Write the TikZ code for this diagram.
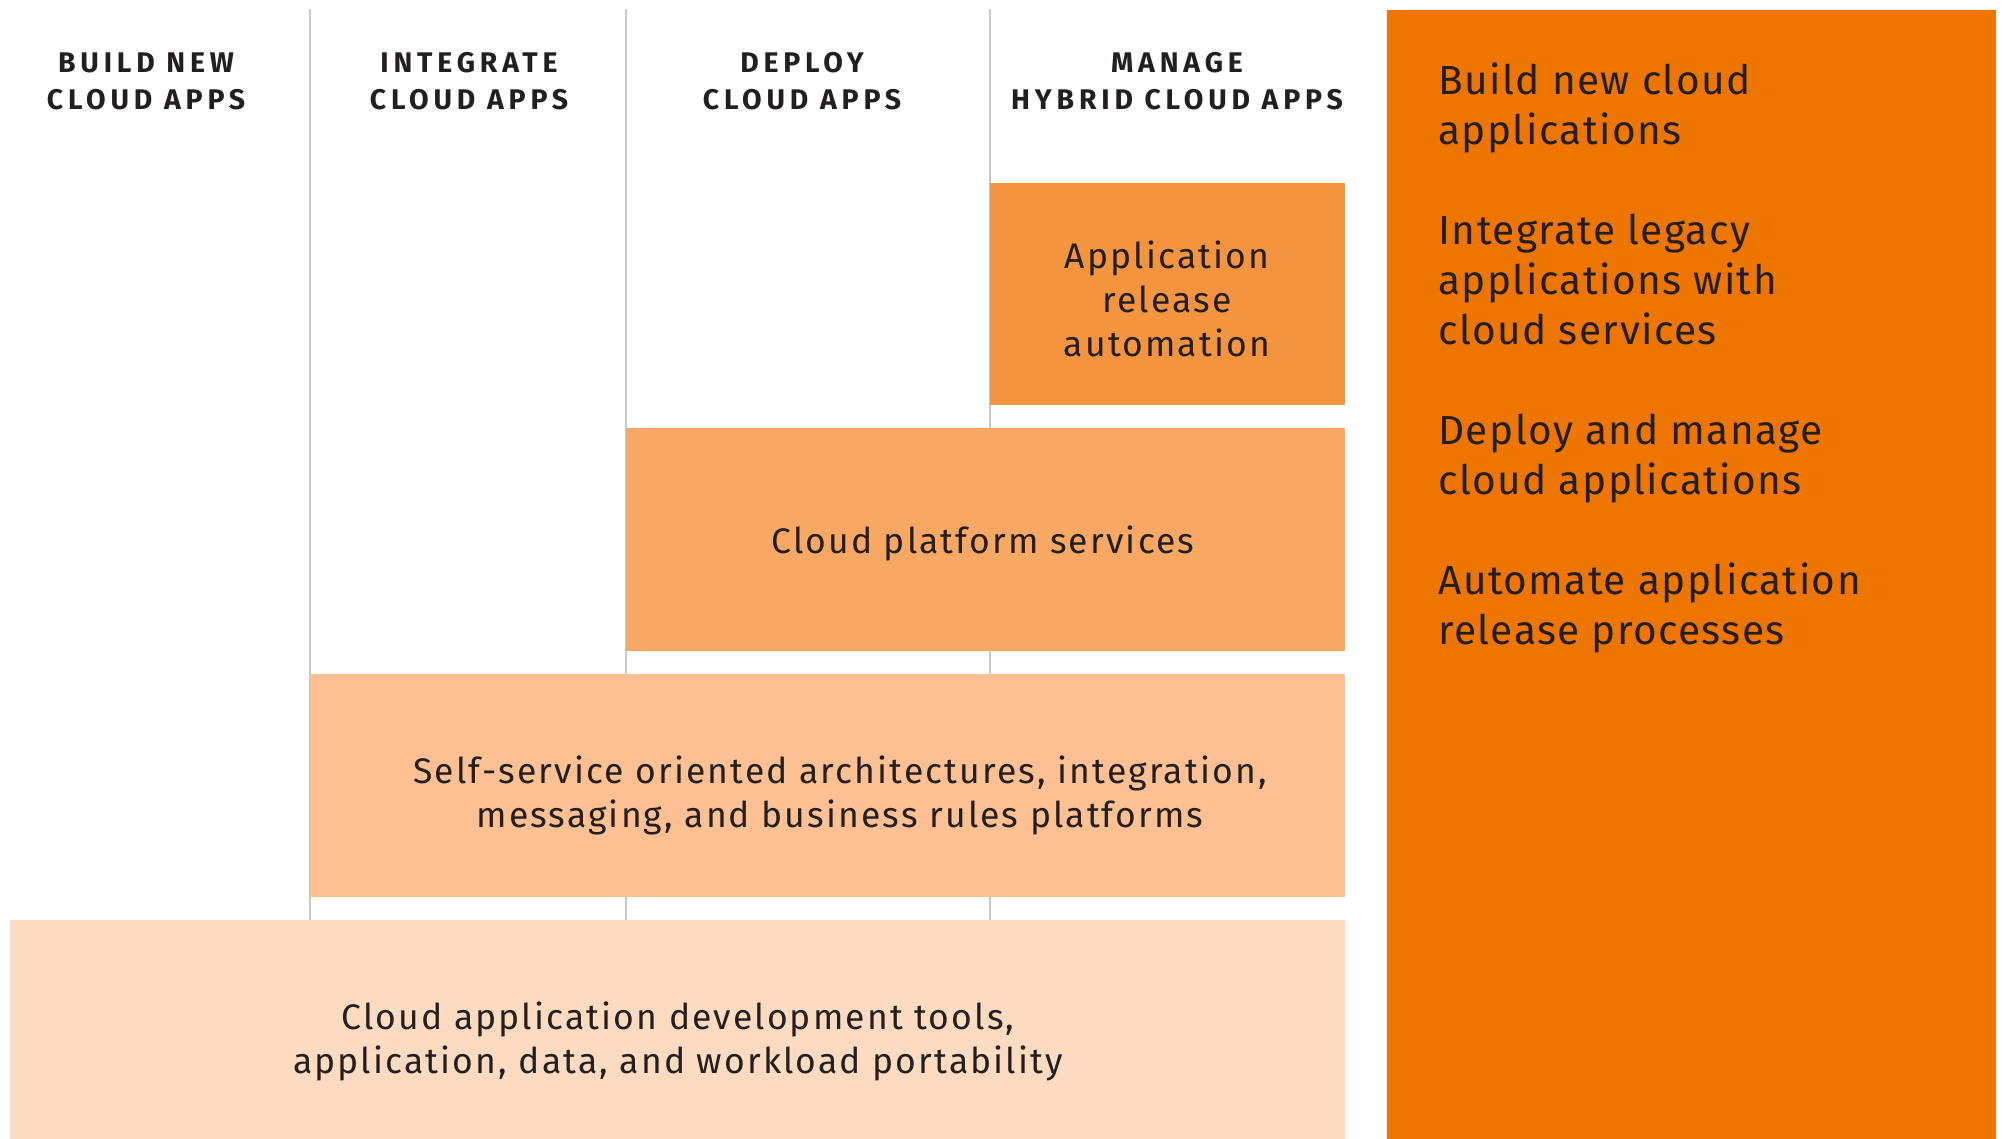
\documentclass[tikz,border=0pt]{standalone}
\usepackage{fontspec}
\setmainfont{Fira Sans}[LetterSpace=6]
\newfontfamily\hdrfont{Fira Sans}[LetterSpace=17]
\newfontfamily\panelfont{Fira Sans}[LetterSpace=3.5]
\definecolor{txt}{RGB}{35,31,32}
\definecolor{grid}{RGB}{200,200,200}
\definecolor{panel}{RGB}{238,118,0}
\definecolor{lvA}{RGB}{244,148,62}
\definecolor{lvB}{RGB}{248,168,99}
\definecolor{lvC}{RGB}{252,192,146}
\definecolor{lvD}{RGB}{253,219,192}
\tikzset{
  hdr/.style={anchor=base, align=center, text=txt, inner sep=0pt, font=\hdrfont\bfseries\fontsize{14.2}{18.5}\selectfont},
  boxtext/.style={anchor=base, align=center, text=txt, inner sep=0pt, font=\fontsize{17.75}{22}\selectfont},
  paneltext/.style={anchor=base west, align=left, text=txt, inner sep=0pt, font=\panelfont\fontsize{20.3}{25}\selectfont},
  gridline/.style={draw=grid, line width=1pt}
}
\begin{document}
\begin{tikzpicture}[x=0.5pt,y=-0.5pt]
\useasboundingbox (0,0) rectangle (2003,1139);
% column lines
\draw[gridline] (310,9) -- (310,920);
\draw[gridline] (626,9) -- (626,920);
\draw[gridline] (990,9) -- (990,920);
% boxes
\fill[lvA] (990,183) rectangle (1345,405);
\fill[lvB] (626,428) rectangle (1345,651);
\fill[lvC] (310,674) rectangle (1345,897);
\fill[lvD] (10,920) rectangle (1345,1139);
\fill[panel] (1387,10) rectangle (1996,1139);
% headers (base = last line)
\node[hdr] (h1) at (146,110) {BUILD NEW\\CLOUD APPS};
\node[hdr] (h2) at (469,110) {INTEGRATE\\CLOUD APPS};
\node[hdr] (h3) at (802,110) {DEPLOY\\CLOUD APPS};
\node[hdr] (h4) at (1177,110) {MANAGE\\HYBRID CLOUD APPS};
% box texts
\node[boxtext] (t1) at (1167,357) {Application\\release\\automation};
\node[boxtext] (t2) at (983,553) {Cloud platform services};
\node[boxtext] (t3) at (840,827) {Self-service oriented architectures, integration,\\messaging, and business rules platforms};
\node[boxtext] (t4) at (678,1073) {Cloud application development tools,\\application, data, and workload portability};
% panel text
\node[paneltext] (p1) at (1438,644) {Build new cloud\\applications\\[25pt]Integrate legacy\\applications with\\cloud services\\[25pt]Deploy and manage\\cloud applications\\[25pt]Automate application\\release processes};
\end{tikzpicture}
\end{document}
